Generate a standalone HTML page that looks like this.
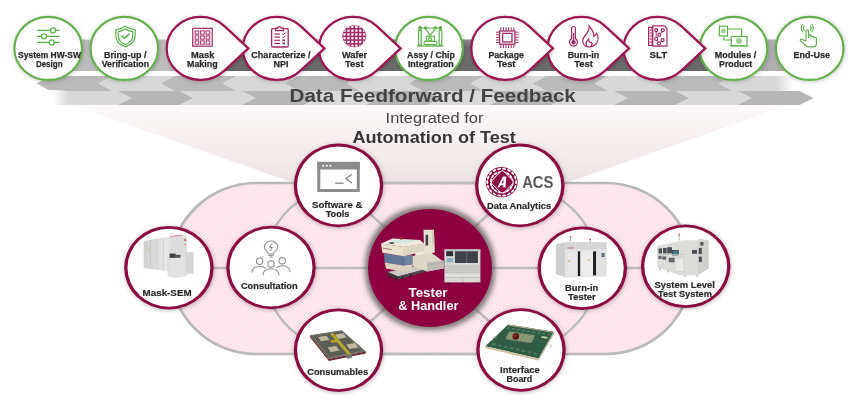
<!DOCTYPE html>
<html><head><meta charset="utf-8"><style>html,body{margin:0;padding:0;background:#fff;width:856px;height:402px;overflow:hidden}svg{display:block;filter:blur(0.3px)}</style></head>
<body><svg width="856" height="402" viewBox="0 0 856 402" font-family="Liberation Sans, sans-serif">
<defs>
<pattern id="hatch" patternUnits="userSpaceOnUse" width="2.35" height="2.35" patternTransform="rotate(45)">
<rect width="2.35" height="2.35" fill="#fff5f8"/><rect width="1.1" height="2.35" fill="#fad3e1"/>
</pattern>
<linearGradient id="spot" x1="0" y1="0" x2="0" y2="1">
<stop offset="0" stop-color="#fdf9f9"/><stop offset="1" stop-color="#ede2e3"/>
</linearGradient>
<linearGradient id="fadeL" x1="0" y1="0" x2="1" y2="0">
<stop offset="0" stop-color="#fff" stop-opacity="1"/><stop offset="1" stop-color="#fff" stop-opacity="0"/>
</linearGradient>
<linearGradient id="fadeR" x1="0" y1="0" x2="1" y2="0">
<stop offset="0" stop-color="#fff" stop-opacity="0"/><stop offset="1" stop-color="#fff" stop-opacity="1"/>
</linearGradient>
<linearGradient id="bandv" x1="0" y1="0" x2="0" y2="1">
<stop offset="0" stop-color="#8e8e8e"/><stop offset="0.25" stop-color="#6e6e6e"/><stop offset="1" stop-color="#6a6a6a"/>
</linearGradient>
<clipPath id="upclip"><rect x="0" y="70" width="800" height="30"/></clipPath>
<filter id="sh" x="-20%" y="-20%" width="140%" height="140%"><feDropShadow dx="1" dy="1.5" stdDeviation="1.5" flood-color="#000" flood-opacity="0.18"/></filter>
<filter id="sh3" x="-20%" y="-20%" width="140%" height="140%"><feDropShadow dx="0.5" dy="0.8" stdDeviation="2" flood-color="#000" flood-opacity="0.28"/></filter>
<filter id="sh4" x="-20%" y="-20%" width="140%" height="140%"><feDropShadow dx="0.6" dy="0.8" stdDeviation="2.2" flood-color="#000" flood-opacity="0.22"/></filter>
<filter id="sh2" x="-30%" y="-30%" width="160%" height="160%"><feMorphology in="SourceAlpha" operator="dilate" radius="3" result="d"/><feGaussianBlur in="d" stdDeviation="2.6" result="b"/><feFlood flood-color="#555" flood-opacity="0.75"/><feComposite in2="b" operator="in" result="s"/><feMerge><feMergeNode in="s"/><feMergeNode in="SourceGraphic"/></feMerge></filter>
</defs>
<rect width="856" height="402" fill="#fff"/>
<polygon points="72,105 789,105 563,184 297,184" fill="url(#spot)"/>
<rect x="30" y="39.5" width="180" height="31.5" fill="#bdbdbd"/>
<rect x="730" y="39.5" width="75" height="31.5" fill="#b0b0b0"/>
<rect x="200" y="39.5" width="533" height="31.5" fill="url(#bandv)"/>
<g clip-path="url(#upclip)">
<polygon points="36.7,83.5 50.7,76 112.7,76 98.7,83.5 112.7,91 50.7,91" fill="#bababa"/>
<polygon points="98.7,83.5 112.7,76 174.7,76 160.7,83.5 174.7,91 112.7,91" fill="#d8d8d8"/>
<polygon points="160.7,83.5 174.7,76 236.7,76 222.7,83.5 236.7,91 174.7,91" fill="#bababa"/>
<polygon points="222.7,83.5 236.7,76 298.7,76 284.7,83.5 298.7,91 236.7,91" fill="#d8d8d8"/>
<polygon points="284.7,83.5 298.7,76 360.7,76 346.7,83.5 360.7,91 298.7,91" fill="#bababa"/>
<polygon points="346.7,83.5 360.7,76 422.7,76 408.7,83.5 422.7,91 360.7,91" fill="#d8d8d8"/>
<polygon points="408.7,83.5 422.7,76 484.7,76 470.7,83.5 484.7,91 422.7,91" fill="#bababa"/>
<polygon points="470.7,83.5 484.7,76 546.7,76 532.7,83.5 546.7,91 484.7,91" fill="#d8d8d8"/>
<polygon points="532.7,83.5 546.7,76 608.7,76 594.7,83.5 608.7,91 546.7,91" fill="#bababa"/>
<polygon points="594.7,83.5 608.7,76 670.7,76 656.7,83.5 670.7,91 608.7,91" fill="#d8d8d8"/>
<polygon points="656.7,83.5 670.7,76 732.7,76 718.7,83.5 732.7,91 670.7,91" fill="#bababa"/>
<polygon points="718.7,83.5 732.7,76 800,76 800,91 732.7,91" fill="#d8d8d8"/>
</g>
<rect x="776" y="75" width="18" height="16.5" fill="url(#fadeR)"/>
<rect x="793.5" y="75" width="60" height="16.5" fill="#fff"/>
<polygon points="45,91 117.6,91 131.6,98 117.6,105 45,105" fill="#d9d9d9"/>
<polygon points="131.6,98 117.6,91 179.6,91 193.6,98 179.6,105 117.6,105" fill="#b6b6b6"/>
<polygon points="193.6,98 179.6,91 241.6,91 255.6,98 241.6,105 179.6,105" fill="#d9d9d9"/>
<polygon points="255.6,98 241.6,91 303.6,91 317.6,98 303.6,105 241.6,105" fill="#b6b6b6"/>
<polygon points="317.6,98 303.6,91 365.6,91 379.6,98 365.6,105 303.6,105" fill="#d9d9d9"/>
<polygon points="379.6,98 365.6,91 427.6,91 441.6,98 427.6,105 365.6,105" fill="#b6b6b6"/>
<polygon points="441.6,98 427.6,91 489.6,91 503.6,98 489.6,105 427.6,105" fill="#d9d9d9"/>
<polygon points="503.6,98 489.6,91 551.6,91 565.6,98 551.6,105 489.6,105" fill="#b6b6b6"/>
<polygon points="565.6,98 551.6,91 613.6,91 627.6,98 613.6,105 551.6,105" fill="#d9d9d9"/>
<polygon points="627.6,98 613.6,91 675.6,91 689.6,98 675.6,105 613.6,105" fill="#b6b6b6"/>
<polygon points="689.6,98 675.6,91 737.6,91 751.6,98 737.6,105 675.6,105" fill="#d9d9d9"/>
<polygon points="751.6,98 737.6,91 799.6,91 813.6,98 799.6,105 737.6,105" fill="#b6b6b6"/>
<rect x="40" y="90" width="14" height="16" fill="#fff"/>
<rect x="53" y="90" width="15" height="16" fill="url(#fadeL)"/>
<text x="289.50" y="101.90" textLength="286.30" lengthAdjust="spacingAndGlyphs" font-size="18.3" font-weight="bold" fill="#434343" >Data Feedforward / Feedback</text>
<text x="385.60" y="122.50" textLength="97.80" lengthAdjust="spacingAndGlyphs" font-size="15.3" font-weight="normal" fill="#454545" >Integrated for</text>
<text x="352.40" y="142.60" textLength="163.50" lengthAdjust="spacingAndGlyphs" font-size="16.1" font-weight="bold" fill="#363636" >Automation of Test</text>
<rect x="170" y="183" width="522" height="171" rx="86" ry="85.5" fill="url(#hatch)" stroke="#b9b9b9" stroke-width="2.6"/>
<rect x="263.6" y="183" width="334.8" height="171" rx="91.4" ry="85.5" fill="none" stroke="#bdbdbd" stroke-width="2.4"/>
<line x1="169" y1="268" x2="686" y2="268" stroke="#bdbdbd" stroke-width="2.6"/>
<line x1="430" y1="268" x2="338.5" y2="185.4" stroke="#bdbdbd" stroke-width="2.6"/>
<line x1="430" y1="268" x2="519.8" y2="185.4" stroke="#bdbdbd" stroke-width="2.6"/>
<line x1="430" y1="268" x2="338.5" y2="350.2" stroke="#bdbdbd" stroke-width="2.6"/>
<line x1="430" y1="268" x2="521" y2="350" stroke="#bdbdbd" stroke-width="2.6"/>
<ellipse cx="430" cy="268" rx="62" ry="59" fill="#8c0040" filter="url(#sh2)"/>
<polygon points="387.6,272 420,265.6 430,268 398,276.4" fill="#c9c9c4"/>
<polygon points="387.6,272 398,276.4 398,279.6 387.6,275" fill="#3a3a3a"/>
<polygon points="398,276.4 430,268 430,270.6 398,279.6" fill="#4a4a4a"/>
<g fill="#222"><rect x="389" y="275" width="1.4" height="3.4"/><rect x="395.6" y="277.6" width="1.4" height="3.4"/><rect x="402" y="276.6" width="1.4" height="3"/><rect x="410" y="274.2" width="1.4" height="3"/></g>
<polygon points="412.3,256 431,252.4 444,262 443.6,268.6 427.2,271.4 412.3,266" fill="#ddd8c6"/>
<polygon points="426.8,262.6 443.6,260.2 443.6,268.6 427.2,271.4" fill="#bdbdb8"/>
<line x1="427.2" y1="265" x2="443.6" y2="262.4" stroke="#a8a8a2" stroke-width="0.6"/>
<polygon points="423.5,229.8 433.9,229.8 434.6,249 424,250.6" fill="#e4dfcc"/>
<polygon points="431.8,229.8 433.9,229.8 434.6,249 432.4,249.4" fill="#cfc9b6"/>
<rect x="425.6" y="234.8" width="2.5" height="11.6" fill="#3c3c3c"/>
<polygon points="414,247.4 433.4,244.6 435,252.6 415.4,256" fill="#e6e0cc"/>
<rect x="416" y="250.4" width="6" height="3.4" fill="#f2efe2"/>
<polygon points="384,253.4 403.4,256 403.4,265.6 384.6,262.6" fill="#5f7896"/>
<polygon points="403.4,256 412.4,254.6 412.4,264.4 403.4,265.6" fill="#6f84a0"/>
<polygon points="384.6,262.6 403.4,265.6 412.4,264.4 412.4,270.6 403.4,272 386,268.6" fill="#d8d2be"/>
<polygon points="381,243.6 403.4,247 424.2,243.8 424.2,251 403.4,256.2 382.4,252.8" fill="#e8e2cf"/>
<polygon points="403.4,247 424.2,243.8 424.2,251 403.4,256.2" fill="#ddd6c0"/>
<line x1="383" y1="248.2" x2="392" y2="249.6" stroke="#b06a6a" stroke-width="0.9"/>
<polygon points="381,243.6 392.6,238.6 420,240 424.2,243.8 403.4,247" fill="#eeeadb"/>
<polygon points="388,242.4 395,239.4 416.4,240.6 405,243.6" fill="#d3e6de"/>
<ellipse cx="391.6" cy="243" rx="2.6" ry="0.9" fill="#555"/>
<circle cx="401.1" cy="238.4" r="1.3" fill="#9a2a2a"/>
<rect x="444.4" y="249.4" width="36" height="33" fill="#d9d9d7"/>
<rect x="444.4" y="249.4" width="36" height="1.6" fill="#c4c4c2"/>
<rect x="454.9" y="251.2" width="23" height="11.8" fill="#3e4149"/>
<rect x="466.4" y="251.2" width="0.8" height="11.8" fill="#6a6e76"/>
<rect x="446.2" y="251.2" width="6.9" height="5" fill="#2e3036"/>
<rect x="446.8" y="258" width="6.3" height="4.4" fill="#86b4c4"/>
<rect x="445" y="264.3" width="34.8" height="9.3" fill="#cfcfcd"/>
<g stroke="#b4b4b2" stroke-width="0.5"><line x1="445" y1="266.4" x2="479.8" y2="266.4"/><line x1="445" y1="268.4" x2="479.8" y2="268.4"/><line x1="445" y1="270.4" x2="479.8" y2="270.4"/><line x1="445" y1="272.4" x2="479.8" y2="272.4"/><line x1="445" y1="277.6" x2="479.8" y2="277.6"/><line x1="462.4" y1="274.8" x2="462.4" y2="281.4"/></g>
<rect x="445" y="274.8" width="34.8" height="0.8" fill="#eee"/>
<g fill="#333"><rect x="447.6" y="282.4" width="1.4" height="1.4"/><rect x="462.6" y="282.4" width="1.4" height="1.4"/><rect x="477.6" y="282.4" width="1.4" height="1.4"/></g>
<text x="408.60" y="297.10" textLength="38.90" lengthAdjust="spacingAndGlyphs" font-size="13" font-weight="bold" fill="#fff" >Tester</text>
<text x="398.20" y="309.60" textLength="60.30" lengthAdjust="spacingAndGlyphs" font-size="13" font-weight="bold" fill="#fff" >&amp; Handler</text>
<g filter="url(#sh3)"><ellipse cx="338.5" cy="185.4" rx="44.75" ry="41.8" fill="#8a0b40"/><ellipse cx="338.5" cy="185.4" rx="41.45" ry="39.0" fill="#fff"/></g>
<text x="312.00" y="207.70" textLength="50.40" lengthAdjust="spacingAndGlyphs" font-size="9.8" font-weight="bold" fill="#2a2a2a" stroke="#2a2a2a" stroke-width="0.2">Software &amp;</text>
<text x="325.70" y="217.30" textLength="23.70" lengthAdjust="spacingAndGlyphs" font-size="9.8" font-weight="bold" fill="#2a2a2a" stroke="#2a2a2a" stroke-width="0.2">Tools</text>
<g filter="url(#sh3)"><ellipse cx="519.8" cy="185.4" rx="44.75" ry="41.8" fill="#8a0b40"/><ellipse cx="519.8" cy="185.4" rx="41.45" ry="39.0" fill="#fff"/></g>
<text x="487.10" y="209.40" textLength="64.10" lengthAdjust="spacingAndGlyphs" font-size="9.8" font-weight="bold" fill="#2a2a2a" stroke="#2a2a2a" stroke-width="0.2">Data Analytics</text>
<g filter="url(#sh3)"><ellipse cx="271" cy="267.5" rx="44.75" ry="41.8" fill="#8a0b40"/><ellipse cx="271" cy="267.5" rx="41.45" ry="39.0" fill="#fff"/></g>
<text x="240.90" y="289.10" textLength="56.80" lengthAdjust="spacingAndGlyphs" font-size="9.8" font-weight="bold" fill="#2a2a2a" stroke="#2a2a2a" stroke-width="0.2">Consultation</text>
<g filter="url(#sh3)"><ellipse cx="168.9" cy="267.7" rx="44.75" ry="41.8" fill="#8a0b40"/><ellipse cx="168.9" cy="267.7" rx="41.45" ry="39.0" fill="#fff"/></g>
<text x="142.60" y="296.00" textLength="49.00" lengthAdjust="spacingAndGlyphs" font-size="9.8" font-weight="bold" fill="#2a2a2a" stroke="#2a2a2a" stroke-width="0.2">Mask-SEM</text>
<g filter="url(#sh3)"><ellipse cx="338.5" cy="350.2" rx="44.75" ry="41.8" fill="#8a0b40"/><ellipse cx="338.5" cy="350.2" rx="41.45" ry="39.0" fill="#fff"/></g>
<text x="307.20" y="375.00" textLength="60.90" lengthAdjust="spacingAndGlyphs" font-size="9.8" font-weight="bold" fill="#2a2a2a" stroke="#2a2a2a" stroke-width="0.2">Consumables</text>
<g filter="url(#sh3)"><ellipse cx="521" cy="350" rx="44.75" ry="41.8" fill="#8a0b40"/><ellipse cx="521" cy="350" rx="41.45" ry="39.0" fill="#fff"/></g>
<text x="500.10" y="372.50" textLength="39.80" lengthAdjust="spacingAndGlyphs" font-size="9.8" font-weight="bold" fill="#2a2a2a" stroke="#2a2a2a" stroke-width="0.2">Interface</text>
<text x="506.50" y="381.60" textLength="25.80" lengthAdjust="spacingAndGlyphs" font-size="9.8" font-weight="bold" fill="#2a2a2a" stroke="#2a2a2a" stroke-width="0.2">Board</text>
<g filter="url(#sh3)"><ellipse cx="582.3" cy="268.3" rx="44.75" ry="41.8" fill="#8a0b40"/><ellipse cx="582.3" cy="268.3" rx="41.45" ry="39.0" fill="#fff"/></g>
<text x="565.00" y="291.10" textLength="33.30" lengthAdjust="spacingAndGlyphs" font-size="9.8" font-weight="bold" fill="#2a2a2a" stroke="#2a2a2a" stroke-width="0.2">Burn-in</text>
<text x="568.10" y="300.00" textLength="27.70" lengthAdjust="spacingAndGlyphs" font-size="9.8" font-weight="bold" fill="#2a2a2a" stroke="#2a2a2a" stroke-width="0.2">Tester</text>
<g filter="url(#sh3)"><ellipse cx="685.7" cy="266.3" rx="44.75" ry="41.8" fill="#8a0b40"/><ellipse cx="685.7" cy="266.3" rx="41.45" ry="39.0" fill="#fff"/></g>
<text x="654.50" y="287.50" textLength="60.30" lengthAdjust="spacingAndGlyphs" font-size="9.8" font-weight="bold" fill="#2a2a2a" stroke="#2a2a2a" stroke-width="0.2">System Level</text>
<text x="658.00" y="297.00" textLength="53.90" lengthAdjust="spacingAndGlyphs" font-size="9.8" font-weight="bold" fill="#2a2a2a" stroke="#2a2a2a" stroke-width="0.2">Test System</text>
<polygon points="248.30,48.4 238.75,39.3 252.30,39.3 252.30,48.4" fill="#f4f4f4"/>
<polygon points="324.45,48.4 314.90,39.3 328.45,39.3 328.45,48.4" fill="#f4f4f4"/>
<polygon points="552.90,48.4 543.35,39.3 556.90,39.3 556.90,48.4" fill="#f4f4f4"/>
<polygon points="629.05,48.4 619.50,39.3 633.05,39.3 633.05,48.4" fill="#f4f4f4"/>
<polygon points="705.20,48.4 695.65,39.3 709.20,39.3 709.20,48.4" fill="#f4f4f4"/>
<ellipse cx="809.70" cy="48.4" rx="33.8" ry="31.5" fill="#fff" stroke="#63b14b" stroke-width="2.15" filter="url(#sh4)"/>
<text x="793.50" y="57.80" textLength="36.40" lengthAdjust="spacingAndGlyphs" font-size="9.5" font-weight="bold" fill="#2a2a2a" stroke="#2a2a2a" stroke-width="0.25">End-Use</text>
<ellipse cx="733.55" cy="48.4" rx="33.8" ry="31.5" fill="#fff" stroke="#63b14b" stroke-width="2.15" filter="url(#sh4)"/>
<text x="714.70" y="57.80" textLength="41.60" lengthAdjust="spacingAndGlyphs" font-size="9.5" font-weight="bold" fill="#2a2a2a" stroke="#2a2a2a" stroke-width="0.25">Modules /</text>
<text x="719.10" y="66.80" textLength="33.10" lengthAdjust="spacingAndGlyphs" font-size="9.5" font-weight="bold" fill="#2a2a2a" stroke="#2a2a2a" stroke-width="0.25">Product</text>
<path d="M705.20,48.4 L681.30,26.13 A33.8,31.5 0 1 0 681.30,70.67 Z" fill="#fff" stroke="#9c1452" stroke-width="2.2" stroke-linejoin="miter" filter="url(#sh4)"/>
<text x="649.50" y="57.80" textLength="17.60" lengthAdjust="spacingAndGlyphs" font-size="9.5" font-weight="bold" fill="#2a2a2a" stroke="#2a2a2a" stroke-width="0.25">SLT</text>
<path d="M629.05,48.4 L605.15,26.13 A33.8,31.5 0 1 0 605.15,70.67 Z" fill="#fff" stroke="#9c1452" stroke-width="2.2" stroke-linejoin="miter" filter="url(#sh4)"/>
<text x="567.70" y="57.80" textLength="31.50" lengthAdjust="spacingAndGlyphs" font-size="9.5" font-weight="bold" fill="#2a2a2a" stroke="#2a2a2a" stroke-width="0.25">Burn-in</text>
<text x="574.20" y="66.80" textLength="18.80" lengthAdjust="spacingAndGlyphs" font-size="9.5" font-weight="bold" fill="#2a2a2a" stroke="#2a2a2a" stroke-width="0.25">Test</text>
<path d="M552.90,48.4 L529.00,26.13 A33.8,31.5 0 1 0 529.00,70.67 Z" fill="#fff" stroke="#9c1452" stroke-width="2.2" stroke-linejoin="miter" filter="url(#sh4)"/>
<text x="488.40" y="57.80" textLength="35.50" lengthAdjust="spacingAndGlyphs" font-size="9.5" font-weight="bold" fill="#2a2a2a" stroke="#2a2a2a" stroke-width="0.25">Package</text>
<text x="497.00" y="66.80" textLength="18.40" lengthAdjust="spacingAndGlyphs" font-size="9.5" font-weight="bold" fill="#2a2a2a" stroke="#2a2a2a" stroke-width="0.25">Test</text>
<ellipse cx="428.95" cy="48.4" rx="33.8" ry="31.5" fill="#fff" stroke="#63b14b" stroke-width="2.15" filter="url(#sh4)"/>
<text x="407.10" y="57.80" textLength="47.80" lengthAdjust="spacingAndGlyphs" font-size="9.5" font-weight="bold" fill="#2a2a2a" stroke="#2a2a2a" stroke-width="0.25">Assy / Chip</text>
<text x="407.90" y="66.80" textLength="45.90" lengthAdjust="spacingAndGlyphs" font-size="9.5" font-weight="bold" fill="#2a2a2a" stroke="#2a2a2a" stroke-width="0.25">Integration</text>
<path d="M400.60,48.4 L376.70,26.13 A33.8,31.5 0 1 0 376.70,70.67 Z" fill="#fff" stroke="#9c1452" stroke-width="2.2" stroke-linejoin="miter" filter="url(#sh4)"/>
<text x="342.10" y="57.80" textLength="25.00" lengthAdjust="spacingAndGlyphs" font-size="9.5" font-weight="bold" fill="#2a2a2a" stroke="#2a2a2a" stroke-width="0.25">Wafer</text>
<text x="344.90" y="66.80" textLength="18.90" lengthAdjust="spacingAndGlyphs" font-size="9.5" font-weight="bold" fill="#2a2a2a" stroke="#2a2a2a" stroke-width="0.25">Test</text>
<path d="M324.45,48.4 L300.55,26.13 A33.8,31.5 0 1 0 300.55,70.67 Z" fill="#fff" stroke="#9c1452" stroke-width="2.2" stroke-linejoin="miter" filter="url(#sh4)"/>
<text x="251.30" y="57.80" textLength="59.30" lengthAdjust="spacingAndGlyphs" font-size="9.5" font-weight="bold" fill="#2a2a2a" stroke="#2a2a2a" stroke-width="0.25">Characterize /</text>
<text x="273.40" y="66.80" textLength="15.10" lengthAdjust="spacingAndGlyphs" font-size="9.5" font-weight="bold" fill="#2a2a2a" stroke="#2a2a2a" stroke-width="0.25">NPI</text>
<path d="M248.30,48.4 L224.40,26.13 A33.8,31.5 0 1 0 224.40,70.67 Z" fill="#fff" stroke="#9c1452" stroke-width="2.2" stroke-linejoin="miter" filter="url(#sh4)"/>
<text x="191.10" y="57.80" textLength="23.30" lengthAdjust="spacingAndGlyphs" font-size="9.5" font-weight="bold" fill="#2a2a2a" stroke="#2a2a2a" stroke-width="0.25">Mask</text>
<text x="187.00" y="66.80" textLength="30.60" lengthAdjust="spacingAndGlyphs" font-size="9.5" font-weight="bold" fill="#2a2a2a" stroke="#2a2a2a" stroke-width="0.25">Making</text>
<ellipse cx="124.35" cy="48.4" rx="33.8" ry="31.5" fill="#fff" stroke="#63b14b" stroke-width="2.15" filter="url(#sh4)"/>
<text x="104.10" y="57.80" textLength="42.50" lengthAdjust="spacingAndGlyphs" font-size="9.5" font-weight="bold" fill="#2a2a2a" stroke="#2a2a2a" stroke-width="0.25">Bring-up /</text>
<text x="101.70" y="66.80" textLength="47.40" lengthAdjust="spacingAndGlyphs" font-size="9.5" font-weight="bold" fill="#2a2a2a" stroke="#2a2a2a" stroke-width="0.25">Verification</text>
<ellipse cx="48.20" cy="48.4" rx="33.8" ry="31.5" fill="#fff" stroke="#63b14b" stroke-width="2.15" filter="url(#sh4)"/>
<text x="18.10" y="57.80" textLength="62.90" lengthAdjust="spacingAndGlyphs" font-size="9.5" font-weight="bold" fill="#2a2a2a" stroke="#2a2a2a" stroke-width="0.25">System HW-SW</text>
<text x="35.90" y="66.80" textLength="26.70" lengthAdjust="spacingAndGlyphs" font-size="9.5" font-weight="bold" fill="#2a2a2a" stroke="#2a2a2a" stroke-width="0.25">Design</text>
<g stroke="#5db14a" stroke-width="1.3" fill="#fff" stroke-linecap="round">
<line x1="37.6" y1="30.4" x2="59.2" y2="30.4"/>
<circle cx="53" cy="30.4" r="2.5"/>
<line x1="37.6" y1="36.3" x2="59.2" y2="36.3"/>
<circle cx="43.9" cy="36.3" r="2.5"/>
<line x1="37.6" y1="42.4" x2="59.2" y2="42.4"/>
<circle cx="51.7" cy="42.4" r="2.5"/>
</g>
<g stroke="#5db14a" stroke-width="1.2" fill="none" stroke-linejoin="round">
<path d="M125.3,26.3 C122.5,28.3 119,29.6 115.8,29.8 L115.8,35.6 C115.8,41.2 119.8,44.9 125.3,46.9 C130.8,44.9 135.2,41.2 135.2,35.6 L135.2,29.8 C131.6,29.6 128.1,28.3 125.3,26.3 Z"/>
<path d="M125.3,28.9 C123.1,30.4 120.5,31.4 118.2,31.6 L118.2,35.8 C118.2,40.2 121.2,43 125.3,44.5 C129.4,43 132.8,40.2 132.8,35.8 L132.8,31.6 C130.1,31.4 127.5,30.4 125.3,28.9 Z"/>
<path d="M121.7,35.6 L124.5,38.4 L129.5,33.6" stroke-width="1.5"/>
</g>
<g stroke="#a32a64" fill="none" stroke-width="1.2">
<rect x="192.7" y="28.3" width="19.5" height="17.9"/>
<rect x="195.1" y="30.9" width="3.6" height="3.3" stroke-width="1"/>
<rect x="195.1" y="35.9" width="3.6" height="3.3" stroke-width="1"/>
<rect x="195.1" y="40.9" width="3.6" height="3.3" stroke-width="1"/>
<rect x="200.6" y="30.9" width="3.6" height="3.3" stroke-width="1"/>
<rect x="200.6" y="35.9" width="3.6" height="3.3" stroke-width="1"/>
<rect x="200.6" y="40.9" width="3.6" height="3.3" stroke-width="1"/>
<rect x="206.1" y="30.9" width="3.6" height="3.3" stroke-width="1"/>
<rect x="206.1" y="35.9" width="3.6" height="3.3" stroke-width="1"/>
<rect x="206.1" y="40.9" width="3.6" height="3.3" stroke-width="1"/>
</g>
<g stroke="#a32a64" fill="none" stroke-width="1.3">
<rect x="271.6" y="28.6" width="16.6" height="18.4" rx="1.2"/>
<path d="M275.6,30.6 L275.6,28.2 L277.6,28.2 C277.8,26.6 281.2,26.6 281.4,28.2 L283.4,28.2 L283.4,30.6 Z" fill="#fff"/>
<line x1="274.3" y1="34" x2="280" y2="34" stroke-width="1.2"/>
<line x1="274.3" y1="37.1" x2="280" y2="37.1" stroke-width="1.2"/>
<line x1="274.3" y1="40.3" x2="280" y2="40.3" stroke-width="1.2"/>
<line x1="274.3" y1="43.4" x2="280" y2="43.4" stroke-width="1.2"/>
<path d="M282.2,33.8 L283.2,34.8 L285.6,32.6 M282.2,36.9 L283.2,37.9 L285.6,35.7" stroke-width="1"/>
<rect x="282.4" y="39.4" width="2.6" height="1.8" fill="#a32a64" stroke="none"/><rect x="282.4" y="42.4" width="2.6" height="1.8" fill="#a32a64" stroke="none"/>
</g>
<clipPath id="wclip"><ellipse cx="354.3" cy="36.3" rx="11.6" ry="10.7"/></clipPath>
<ellipse cx="354.3" cy="36.3" rx="11.9" ry="11" fill="#a32a64"/>
<g clip-path="url(#wclip)" fill="#fff">
<rect x="343.35" y="25.85" width="2.3" height="2.2"/>
<rect x="343.35" y="29.60" width="2.3" height="2.2"/>
<rect x="343.35" y="33.35" width="2.3" height="2.2"/>
<rect x="343.35" y="37.10" width="2.3" height="2.2"/>
<rect x="343.35" y="40.85" width="2.3" height="2.2"/>
<rect x="343.35" y="44.60" width="2.3" height="2.2"/>
<rect x="347.30" y="25.85" width="2.3" height="2.2"/>
<rect x="347.30" y="29.60" width="2.3" height="2.2"/>
<rect x="347.30" y="33.35" width="2.3" height="2.2"/>
<rect x="347.30" y="37.10" width="2.3" height="2.2"/>
<rect x="347.30" y="40.85" width="2.3" height="2.2"/>
<rect x="347.30" y="44.60" width="2.3" height="2.2"/>
<rect x="351.25" y="25.85" width="2.3" height="2.2"/>
<rect x="351.25" y="29.60" width="2.3" height="2.2"/>
<rect x="351.25" y="33.35" width="2.3" height="2.2"/>
<rect x="351.25" y="37.10" width="2.3" height="2.2"/>
<rect x="351.25" y="40.85" width="2.3" height="2.2"/>
<rect x="351.25" y="44.60" width="2.3" height="2.2"/>
<rect x="355.20" y="25.85" width="2.3" height="2.2"/>
<rect x="355.20" y="29.60" width="2.3" height="2.2"/>
<rect x="355.20" y="33.35" width="2.3" height="2.2"/>
<rect x="355.20" y="37.10" width="2.3" height="2.2"/>
<rect x="355.20" y="40.85" width="2.3" height="2.2"/>
<rect x="355.20" y="44.60" width="2.3" height="2.2"/>
<rect x="359.15" y="25.85" width="2.3" height="2.2"/>
<rect x="359.15" y="29.60" width="2.3" height="2.2"/>
<rect x="359.15" y="33.35" width="2.3" height="2.2"/>
<rect x="359.15" y="37.10" width="2.3" height="2.2"/>
<rect x="359.15" y="40.85" width="2.3" height="2.2"/>
<rect x="359.15" y="44.60" width="2.3" height="2.2"/>
<rect x="363.10" y="25.85" width="2.3" height="2.2"/>
<rect x="363.10" y="29.60" width="2.3" height="2.2"/>
<rect x="363.10" y="33.35" width="2.3" height="2.2"/>
<rect x="363.10" y="37.10" width="2.3" height="2.2"/>
<rect x="363.10" y="40.85" width="2.3" height="2.2"/>
<rect x="363.10" y="44.60" width="2.3" height="2.2"/>
</g>
<g stroke="#5db14a" fill="none" stroke-width="1.2">
<path d="M420,28 L430.2,28 M430.2,28 L440.5,28"/>
<path d="M425,28 L430.2,35.5 L435.6,28"/>
<rect x="418.6" y="30.5" width="2.6" height="14.5"/><rect x="439.2" y="30.5" width="2.6" height="14.5"/>
<circle cx="420" cy="28" r="1.3" fill="#5db14a"/><circle cx="440.5" cy="28" r="1.3" fill="#5db14a"/><circle cx="425.5" cy="28" r="1.1" fill="#5db14a"/><circle cx="435.2" cy="28" r="1.1" fill="#5db14a"/>
<line x1="417" y1="46" x2="443.5" y2="46" stroke-width="1.4"/>
<rect x="426.5" y="36.2" width="8" height="5"/><rect x="428.5" y="38" width="3" height="3"/>
<rect x="424" y="41.5" width="13" height="3" rx="1.5"/>
</g>
<g stroke="#a32a64" fill="none" stroke-width="1.3">
<rect x="499.6" y="31" width="15.3" height="13.2"/>
<rect x="502.6" y="33.4" width="9.4" height="8.5"/>
<line x1="500.8" y1="27.3" x2="500.8" y2="30.4" stroke-width="1"/><line x1="500.8" y1="44.8" x2="500.8" y2="48" stroke-width="1"/>
<line x1="503.4" y1="27.3" x2="503.4" y2="30.4" stroke-width="1"/><line x1="503.4" y1="44.8" x2="503.4" y2="48" stroke-width="1"/>
<line x1="506.0" y1="27.3" x2="506.0" y2="30.4" stroke-width="1"/><line x1="506.0" y1="44.8" x2="506.0" y2="48" stroke-width="1"/>
<line x1="508.6" y1="27.3" x2="508.6" y2="30.4" stroke-width="1"/><line x1="508.6" y1="44.8" x2="508.6" y2="48" stroke-width="1"/>
<line x1="511.2" y1="27.3" x2="511.2" y2="30.4" stroke-width="1"/><line x1="511.2" y1="44.8" x2="511.2" y2="48" stroke-width="1"/>
<line x1="513.8" y1="27.3" x2="513.8" y2="30.4" stroke-width="1"/><line x1="513.8" y1="44.8" x2="513.8" y2="48" stroke-width="1"/>
<line x1="496" y1="32.2" x2="499" y2="32.2" stroke-width="1"/><line x1="515.5" y1="32.2" x2="518.6" y2="32.2" stroke-width="1"/>
<line x1="496" y1="34.8" x2="499" y2="34.8" stroke-width="1"/><line x1="515.5" y1="34.8" x2="518.6" y2="34.8" stroke-width="1"/>
<line x1="496" y1="37.4" x2="499" y2="37.4" stroke-width="1"/><line x1="515.5" y1="37.4" x2="518.6" y2="37.4" stroke-width="1"/>
<line x1="496" y1="40.0" x2="499" y2="40.0" stroke-width="1"/><line x1="515.5" y1="40.0" x2="518.6" y2="40.0" stroke-width="1"/>
<line x1="496" y1="42.6" x2="499" y2="42.6" stroke-width="1"/><line x1="515.5" y1="42.6" x2="518.6" y2="42.6" stroke-width="1"/>
</g>
<g stroke="#a32a64" fill="none" stroke-width="1.2">
<path d="M571.6,38.6 L571.6,28.4 A1.9,1.9 0 0 1 575.4,28.4 L575.4,38.6 A4,4 0 1 1 571.6,38.6 Z"/>
<circle cx="573.5" cy="42.2" r="1.6" fill="#a32a64"/><line x1="573.5" y1="33" x2="573.5" y2="40.5" stroke-width="1.3"/>
<path d="M589.2,26 C591.8,29.5 594.5,32.5 593.8,36.2 C595.2,35.8 596.1,34.6 596.4,33.4 C598.6,36.4 598.6,40.6 596.4,43.3 C594.6,45.6 591.7,47 588.7,46.9 C585.1,46.8 582.5,44.2 582.8,40.4 C583,37.4 585.3,35.2 587.1,33 C588.5,31.1 589.5,28.6 589.2,26 Z"/>
<path d="M587,46.6 C585.4,43.8 586.4,41 588.6,38.8 C588.6,41.2 590,42.6 591.4,42.6 C592.4,44 591.8,45.8 590.6,46.8"/>
</g>
<g stroke="#a32a64" fill="none" stroke-width="1.2">
<path d="M652.8,25.9 L664.2,25.9 L667,28.6 L667,46.2 L652.8,46.2 Z"/>
<rect x="648.6" y="27.4" width="3.6" height="18" />
<line x1="649.4" y1="30" x2="651.6" y2="30" stroke-width="1"/>
<line x1="649.4" y1="33" x2="651.6" y2="33" stroke-width="1"/>
<line x1="649.4" y1="36" x2="651.6" y2="36" stroke-width="1"/>
<line x1="649.4" y1="39" x2="651.6" y2="39" stroke-width="1"/>
<line x1="649.4" y1="42" x2="651.6" y2="42" stroke-width="1"/>
<circle cx="656.2" cy="30.2" r="1.5"/><circle cx="662.8" cy="30.2" r="1.5"/><circle cx="659.4" cy="34.6" r="1.5"/><circle cx="656.2" cy="39" r="1.5"/><circle cx="662.6" cy="40.2" r="1.5"/><circle cx="659" cy="43.4" r="1.5"/>
<path d="M656.2,31.7 L656.2,37.5 M662.8,31.7 L660.4,33.4 M657.4,38.2 L658.4,35.8 M657.4,40 L658.2,42.2 M661.4,41.2 L660.2,42.6" stroke-width="0.9"/>
</g>
<g stroke="#5db14a" fill="none" stroke-width="1.2">
<rect x="719.4" y="26.1" width="8.1" height="9.8"/>
<circle cx="723.4" cy="31" r="2.4" fill="#5db14a" fill-opacity="0.6" stroke="none"/>
<rect x="731.2" y="36.5" width="15.8" height="9.2"/>
<circle cx="739" cy="41" r="3" fill="#5db14a" fill-opacity="0.6" stroke="none"/>
<path d="M727.5,29 L741.6,29 L741.6,36.5 M724,35.9 L724,40 L731.2,40 M729.5,46 L748.5,46"/>
</g>
<g stroke="#5db14a" fill="none" stroke-width="1.2" stroke-linejoin="round" stroke-linecap="round">
<path d="M806,41 L806,31.5 C806,29.8 808.6,29.8 808.6,31.5 L808.6,37.5 L808.8,35.8 C809,34.6 811,34.6 811.2,35.8 L811.4,37.2 C811.6,36 813.6,36 813.8,37.2 L814,38 C814.4,36.9 816.4,37 816.4,38.4 L816.4,43.5 C816.4,45.3 815,46.8 813.2,46.8 L808.4,46.8 C806.8,46.8 805.8,45.6 804.6,44.4 L800.6,41 C799.6,40 800.6,38.8 801.8,39.2 Z"/>
<path d="M804.3,30.5 C803.3,29.2 803.3,27.4 804.3,26.2 M810.4,26.2 C811.4,27.4 811.4,29.2 810.4,30.5 M802.6,31.8 C800.9,29.6 800.9,26.2 802.6,24.4 M812,24.4 C813.7,26.2 813.7,29.6 812,31.8" stroke-width="1.1"/>
</g>
<g fill="none" stroke="#8c8c8c">
<rect x="318.8" y="163.4" width="39.5" height="27.1" stroke-width="3"/>
<rect x="317.3" y="161.9" width="42.5" height="7.6" fill="#8c8c8c" stroke="none"/>
<circle cx="323.3" cy="165.8" r="0.95" fill="#fff" stroke="none"/><circle cx="326.9" cy="165.8" r="0.95" fill="#fff" stroke="none"/><circle cx="330.5" cy="165.8" r="0.95" fill="#fff" stroke="none"/>
<line x1="335.3" y1="183.2" x2="343.6" y2="183.2" stroke-width="1.4"/>
<path d="M352,174.2 L345.9,178.6 L352,183.1" stroke-width="1.4"/>
</g>
<ellipse cx="501.7" cy="182.2" rx="16" ry="15.1" fill="#8c0a42"/>
<g fill="#fff">
<ellipse cx="516.12" cy="182.20" rx="2.08" ry="0.96" transform="rotate(90.0 516.12 182.20)"/>
<ellipse cx="515.25" cy="186.84" rx="2.08" ry="0.96" transform="rotate(110.0 515.25 186.84)"/>
<ellipse cx="512.75" cy="190.93" rx="2.08" ry="0.96" transform="rotate(130.0 512.75 190.93)"/>
<ellipse cx="508.91" cy="193.96" rx="2.08" ry="0.96" transform="rotate(150.0 508.91 193.96)"/>
<ellipse cx="504.20" cy="195.57" rx="2.08" ry="0.96" transform="rotate(170.0 504.20 195.57)"/>
<ellipse cx="499.20" cy="195.57" rx="2.08" ry="0.96" transform="rotate(190.0 499.20 195.57)"/>
<ellipse cx="494.49" cy="193.96" rx="2.08" ry="0.96" transform="rotate(210.0 494.49 193.96)"/>
<ellipse cx="490.65" cy="190.93" rx="2.08" ry="0.96" transform="rotate(230.0 490.65 190.93)"/>
<ellipse cx="488.15" cy="186.84" rx="2.08" ry="0.96" transform="rotate(250.0 488.15 186.84)"/>
<ellipse cx="487.28" cy="182.20" rx="2.08" ry="0.96" transform="rotate(270.0 487.28 182.20)"/>
<ellipse cx="488.15" cy="177.56" rx="2.08" ry="0.96" transform="rotate(290.0 488.15 177.56)"/>
<ellipse cx="490.65" cy="173.47" rx="2.08" ry="0.96" transform="rotate(310.0 490.65 173.47)"/>
<ellipse cx="494.49" cy="170.44" rx="2.08" ry="0.96" transform="rotate(330.0 494.49 170.44)"/>
<ellipse cx="499.20" cy="168.83" rx="2.08" ry="0.96" transform="rotate(350.0 499.20 168.83)"/>
<ellipse cx="504.20" cy="168.83" rx="2.08" ry="0.96" transform="rotate(370.0 504.20 168.83)"/>
<ellipse cx="508.91" cy="170.44" rx="2.08" ry="0.96" transform="rotate(390.0 508.91 170.44)"/>
<ellipse cx="512.75" cy="173.47" rx="2.08" ry="0.96" transform="rotate(410.0 512.75 173.47)"/>
<ellipse cx="515.25" cy="177.56" rx="2.08" ry="0.96" transform="rotate(430.0 515.25 177.56)"/>
<ellipse cx="512.41" cy="184.21" rx="2.08" ry="0.96" transform="rotate(101.2 512.41 184.21)"/>
<ellipse cx="510.78" cy="187.91" rx="2.08" ry="0.96" transform="rotate(123.8 510.78 187.91)"/>
<ellipse cx="507.77" cy="190.75" rx="2.08" ry="0.96" transform="rotate(146.2 507.77 190.75)"/>
<ellipse cx="503.83" cy="192.28" rx="2.08" ry="0.96" transform="rotate(168.8 503.83 192.28)"/>
<ellipse cx="499.57" cy="192.28" rx="2.08" ry="0.96" transform="rotate(191.2 499.57 192.28)"/>
<ellipse cx="495.63" cy="190.75" rx="2.08" ry="0.96" transform="rotate(213.8 495.63 190.75)"/>
<ellipse cx="492.62" cy="187.91" rx="2.08" ry="0.96" transform="rotate(236.2 492.62 187.91)"/>
<ellipse cx="490.99" cy="184.21" rx="2.08" ry="0.96" transform="rotate(258.8 490.99 184.21)"/>
<ellipse cx="490.99" cy="180.19" rx="2.08" ry="0.96" transform="rotate(281.2 490.99 180.19)"/>
<ellipse cx="492.62" cy="176.49" rx="2.08" ry="0.96" transform="rotate(303.8 492.62 176.49)"/>
<ellipse cx="495.63" cy="173.65" rx="2.08" ry="0.96" transform="rotate(326.2 495.63 173.65)"/>
<ellipse cx="499.57" cy="172.12" rx="2.08" ry="0.96" transform="rotate(348.8 499.57 172.12)"/>
<ellipse cx="503.83" cy="172.12" rx="2.08" ry="0.96" transform="rotate(371.2 503.83 172.12)"/>
<ellipse cx="507.77" cy="173.65" rx="2.08" ry="0.96" transform="rotate(393.8 507.77 173.65)"/>
<ellipse cx="510.78" cy="176.49" rx="2.08" ry="0.96" transform="rotate(416.2 510.78 176.49)"/>
<ellipse cx="512.41" cy="180.19" rx="2.08" ry="0.96" transform="rotate(438.8 512.41 180.19)"/>
<ellipse cx="509.28" cy="182.95" rx="1.69" ry="0.78" transform="rotate(96.0 509.28 182.95)"/>
<ellipse cx="507.87" cy="186.42" rx="1.69" ry="0.78" transform="rotate(126.0 507.87 186.42)"/>
<ellipse cx="504.80" cy="188.76" rx="1.69" ry="0.78" transform="rotate(156.0 504.80 188.76)"/>
<ellipse cx="500.90" cy="189.34" rx="1.69" ry="0.78" transform="rotate(186.0 500.90 189.34)"/>
<ellipse cx="497.22" cy="188.01" rx="1.69" ry="0.78" transform="rotate(216.0 497.22 188.01)"/>
<ellipse cx="494.74" cy="185.12" rx="1.69" ry="0.78" transform="rotate(246.0 494.74 185.12)"/>
<ellipse cx="494.12" cy="181.45" rx="1.69" ry="0.78" transform="rotate(276.0 494.12 181.45)"/>
<ellipse cx="495.53" cy="177.98" rx="1.69" ry="0.78" transform="rotate(306.0 495.53 177.98)"/>
<ellipse cx="498.60" cy="175.64" rx="1.69" ry="0.78" transform="rotate(336.0 498.60 175.64)"/>
<ellipse cx="502.50" cy="175.06" rx="1.69" ry="0.78" transform="rotate(366.0 502.50 175.06)"/>
<ellipse cx="506.18" cy="176.39" rx="1.69" ry="0.78" transform="rotate(396.0 506.18 176.39)"/>
<ellipse cx="508.66" cy="179.28" rx="1.69" ry="0.78" transform="rotate(426.0 508.66 179.28)"/>
</g>
<path d="M502.4,170.8 Q503.4,170.8 504.4,171.8 L512.6,180.4 Q514,182.2 512.6,183.8 L504.4,192.2 Q502.4,193.8 500.4,192.2 L492,183.8 Q490.6,182.2 492,180.4 L500.4,171.8 Q501.4,170.8 502.4,170.8 Z" fill="#8c0a42" stroke="#fff" stroke-width="1"/>
<path d="M497.4,187.6 L503,176.6 L506.2,176.6 L505.6,187.6 L503.2,187.6 L503.3,185.2 L500.6,185.2 L499.6,187.6 Z M501.5,183.3 L503.4,183.3 L503.6,179.2 Z" fill="#fff" fill-rule="evenodd"/>
<text x="522.2" y="188.2" textLength="31.2" lengthAdjust="spacingAndGlyphs" font-size="16" font-weight="bold" fill="#585858">ACS</text>
<g fill="none" stroke="#8c8c8c" stroke-width="1.05">
<path d="M268.4,254 C268.4,251.6 264.3,250.6 264.3,247.3 A6.7,6.3 0 1 1 277.7,247.3 C277.7,250.6 273.6,251.6 273.6,254 Z"/>
<line x1="268.4" y1="255.6" x2="273.6" y2="255.6"/><line x1="269.4" y1="257.2" x2="272.6" y2="257.2"/>
<path d="M271.8,243.6 L269.4,247.8 L272.4,247.4 L270.2,251" stroke-width="1"/>
<circle cx="259.6" cy="261.3" r="3.2"/><circle cx="282.2" cy="260.8" r="3.2"/><circle cx="271" cy="264" r="3.2"/>
<path d="M251.8,272.6 C252.4,268 256,266.2 259.6,266.2 C262,266.2 264,267 265.4,268.4"/>
<path d="M290.2,272.2 C289.6,267.6 286,265.8 282.2,265.8 C279.8,265.8 277.8,266.6 276.4,268"/>
<path d="M263,275.2 C263.4,270.6 266.6,268.8 271,268.8 C275.4,268.8 278.6,270.6 279,275.2"/>
</g>
<defs><linearGradient id="mg1" x1="0" y1="0" x2="1" y2="0"><stop offset="0" stop-color="#cfcfcf"/><stop offset="0.5" stop-color="#e6e6e6"/><stop offset="1" stop-color="#d2d2d2"/></linearGradient></defs>
<polygon points="143.6,241 170,236.6 184,235 186.5,236.5 186.5,266 170,271.5 143.6,268" fill="url(#mg1)"/>
<polygon points="170,236.6 184,235 186.5,236.5 186.5,266 170,271.5" fill="#dcdcdc"/>
<line x1="150.5" y1="240" x2="150.5" y2="268.8" stroke="#bdbdbd" stroke-width="0.6"/><line x1="157" y1="239" x2="157" y2="269.6" stroke="#c4c4c4" stroke-width="0.6"/><line x1="163.4" y1="238" x2="163.4" y2="270.4" stroke="#c4c4c4" stroke-width="0.6"/>
<polygon points="168,257 180,255.5 186,257 186,276 174,277.6 168,275.6" fill="#e2e2e2" stroke="#c8c8c8" stroke-width="0.4"/>
<polygon points="185,252.5 192.5,251.8 193.6,253 193.6,273.4 186,274.6" fill="#d6d6d6"/>
<rect x="169.6" y="253.6" width="6" height="4.2" fill="#3c3c3c"/><rect x="174.5" y="254.8" width="6" height="3" fill="#555"/>
<circle cx="185.2" cy="240" r="0.9" fill="#c33"/><circle cx="185.2" cy="244.6" r="0.9" fill="#e3a040"/><circle cx="148.7" cy="249.8" r="0.7" fill="#e3b040"/>
<line x1="170" y1="236.6" x2="182" y2="235" stroke="#c44a6a" stroke-width="0.6"/>
<polygon points="310,335.2 341.8,330.2 365.8,351.6 328.9,359 " fill="#5a5e55"/><polygon points="312.4,335.6 341.4,331.2 363.4,351 329.4,357.6" fill="none" stroke="#7b7f76" stroke-width="0.8"/>
<polygon points="310,335.2 328.9,359 365.8,351.6 365.8,353.4 328.9,361 310,337.2" fill="#6a2c30"/>
<g fill="#c0b89e">
<polygon points="318,337 326.5,335.7 329.6,340 321,341.3"/>
<polygon points="335,334.6 343.4,333.2 346.6,337.6 338.2,339"/>
<polygon points="327.5,347.4 336,346 339.4,350.6 330.8,352"/>
<polygon points="346.3,344.4 354.8,343 358.2,347.6 349.6,349"/>
</g>
<polygon points="329.8,333.6 333.2,333.1 351.6,354.4 348,355" fill="#b8a52a"/>
<polygon points="330,340.4 337,339.6 338.6,342 331.6,342.8" fill="#b8a52a"/>
<polygon points="346.2,355 351.2,354.2 352,357.8 347,358.8" fill="#707070"/>
<polygon points="485.3,346.2 508.1,324.4 553.8,331.8 538.6,358.4" fill="#2f5d46"/>
<polygon points="485.3,346.2 538.6,358.4 538.6,360.4 485.3,348.2" fill="#cdbf9f"/>
<polygon points="538.6,358.4 553.8,331.8 554.4,333.4 538.6,360.4" fill="#bcae8e"/>
<polygon points="508.1,324.4 553.8,331.8 553.4,332.8 507.6,325.4" fill="#b8aa8a"/>
<g fill="#4f7a5e">
<rect x="507.44" y="327.21" width="3.2" height="1.8" transform="skewX(-40)" transform-origin="507.44 327.21"/>
<rect x="492.06" y="343.28" width="3.6" height="1.8"/>
<rect x="512.52" y="328.03" width="3.2" height="1.8" transform="skewX(-40)" transform-origin="512.52 328.03"/>
<rect x="497.98" y="344.63" width="3.6" height="1.8"/>
<rect x="517.59" y="328.86" width="3.2" height="1.8" transform="skewX(-40)" transform-origin="517.59 328.86"/>
<rect x="503.91" y="345.99" width="3.6" height="1.8"/>
<rect x="522.67" y="329.68" width="3.2" height="1.8" transform="skewX(-40)" transform-origin="522.67 329.68"/>
<rect x="509.83" y="347.34" width="3.6" height="1.8"/>
<rect x="527.75" y="330.50" width="3.2" height="1.8" transform="skewX(-40)" transform-origin="527.75 330.50"/>
<rect x="515.75" y="348.70" width="3.6" height="1.8"/>
<rect x="532.83" y="331.32" width="3.2" height="1.8" transform="skewX(-40)" transform-origin="532.83 331.32"/>
<rect x="521.67" y="350.06" width="3.6" height="1.8"/>
<rect x="537.91" y="332.14" width="3.2" height="1.8" transform="skewX(-40)" transform-origin="537.91 332.14"/>
<rect x="527.59" y="351.41" width="3.6" height="1.8"/>
<rect x="542.98" y="332.97" width="3.2" height="1.8" transform="skewX(-40)" transform-origin="542.98 332.97"/>
<rect x="533.52" y="352.77" width="3.6" height="1.8"/>
<rect x="548.06" y="333.79" width="3.2" height="1.8" transform="skewX(-40)" transform-origin="548.06 333.79"/>
</g>
<polygon points="509.2,331.2 535.2,335.2 531.4,343.2 505.4,339.2" fill="#7f8d6c"/>
<g stroke="#a7b08e" stroke-width="0.45">
<line x1="513.53" y1="331.87" x2="509.73" y2="339.87"/>
<line x1="517.87" y1="332.53" x2="514.07" y2="340.53"/>
<line x1="522.20" y1="333.20" x2="518.40" y2="341.20"/>
<line x1="526.53" y1="333.87" x2="522.73" y2="341.87"/>
<line x1="530.87" y1="334.53" x2="527.07" y2="342.53"/>
<line x1="508.25" y1="333.20" x2="534.25" y2="337.20"/>
<line x1="507.30" y1="335.20" x2="533.30" y2="339.20"/>
<line x1="506.35" y1="337.20" x2="532.35" y2="341.20"/>
</g>
<circle cx="515.8" cy="336.4" r="3.3" fill="#5a1510"/><circle cx="515.2" cy="335.6" r="1.5" fill="#8a3020"/>
<path d="M496.6,337.4 L493.8,336.8 L491.6,341 M548.8,345 L551.8,345.2 L550.2,349.2" fill="none" stroke="#c8c8c8" stroke-width="0.8"/>
<rect x="541.5" y="336.4" width="6" height="1.8" fill="#c2cfa4" transform="rotate(9 544 337)"/>
<polygon points="555.8,244.2 565.5,242.3 565.5,277.4 555.8,274" fill="#cfcfcf"/>
<polygon points="565.5,242.3 606.6,242.3 606.6,276.6 565.5,277.4" fill="#e3e3e3"/>
<rect x="565.5" y="242.3" width="41.1" height="7" fill="#d6d6d6"/>
<rect x="577.6" y="251.4" width="2.8" height="24.6" fill="#1e1e1e"/><rect x="593" y="251.4" width="3.2" height="24" fill="#222"/>
<rect x="580.4" y="251.4" width="12.6" height="24.4" fill="#ececec"/><rect x="567.6" y="251.8" width="10" height="24.6" fill="#e8e8e8"/>
<rect x="596.2" y="251.2" width="10" height="24" fill="#e1e1e1"/><rect x="601.6" y="253" width="3" height="4" fill="#5a6a8a"/>
<circle cx="569.3" cy="261.2" r="0.9" fill="#d8b040"/><circle cx="588.8" cy="259.8" r="0.9" fill="#d8b040"/>
<line x1="570.7" y1="236.4" x2="570.7" y2="242" stroke="#888" stroke-width="0.7"/><circle cx="570.7" cy="236.8" r="0.8" fill="#c44"/>
<line x1="590.2" y1="239" x2="590.2" y2="242.3" stroke="#888" stroke-width="0.7"/><circle cx="590.2" cy="239.2" r="0.8" fill="#c44"/>
<line x1="567.6" y1="248" x2="574" y2="248" stroke="#c04060" stroke-width="0.7"/>
<polygon points="657.2,246 683,240.2 697,240.2 699,238.4 708.8,240.6 708.8,268.6 697.5,275.2 680,275.2 657.2,267" fill="#dcdcd8"/>
<polygon points="697.5,241 708.8,240.6 708.8,268.6 697.5,275.2" fill="#d0d0cc"/>
<g fill="#4a4f55">
<rect x="658.6" y="248.4" width="3.4" height="5" /><rect x="663" y="248" width="3.6" height="5.4"/><rect x="667.2" y="247.2" width="4.8" height="6.2"/>
<rect x="692" y="250" width="5" height="3.8"/><rect x="698.8" y="248" width="3" height="6"/><rect x="698.8" y="256.6" width="3" height="5.4"/>
<rect x="700.4" y="242" width="3" height="3.6"/>
</g>
<rect x="672.4" y="250.4" width="6" height="4.6" fill="#3a7a8a" stroke="#222" stroke-width="0.6"/>
<g fill="#62666c"><rect x="658.4" y="255.8" width="3.2" height="3.2"/><rect x="662.3" y="256.4" width="3.9" height="3.3"/><rect x="668.7" y="257.7" width="5.9" height="4.6"/></g>
<rect x="657.2" y="254.2" width="27" height="0.8" fill="#c4c4c0"/>
<rect x="675" y="258" width="9" height="13.6" fill="#e8e8e6" stroke="#bbb" stroke-width="0.4"/>
<line x1="679.3" y1="233.8" x2="679.3" y2="240.4" stroke="#999" stroke-width="0.7"/><circle cx="679.3" cy="234.6" r="0.9" fill="#d54"/>
<g stroke="#777" stroke-width="0.7"><line x1="660" y1="267.6" x2="660" y2="270"/><line x1="668" y1="270" x2="668" y2="272.6"/><line x1="685" y1="275" x2="685" y2="277"/><line x1="697" y1="275" x2="697" y2="277"/></g>
</svg></body></html>
